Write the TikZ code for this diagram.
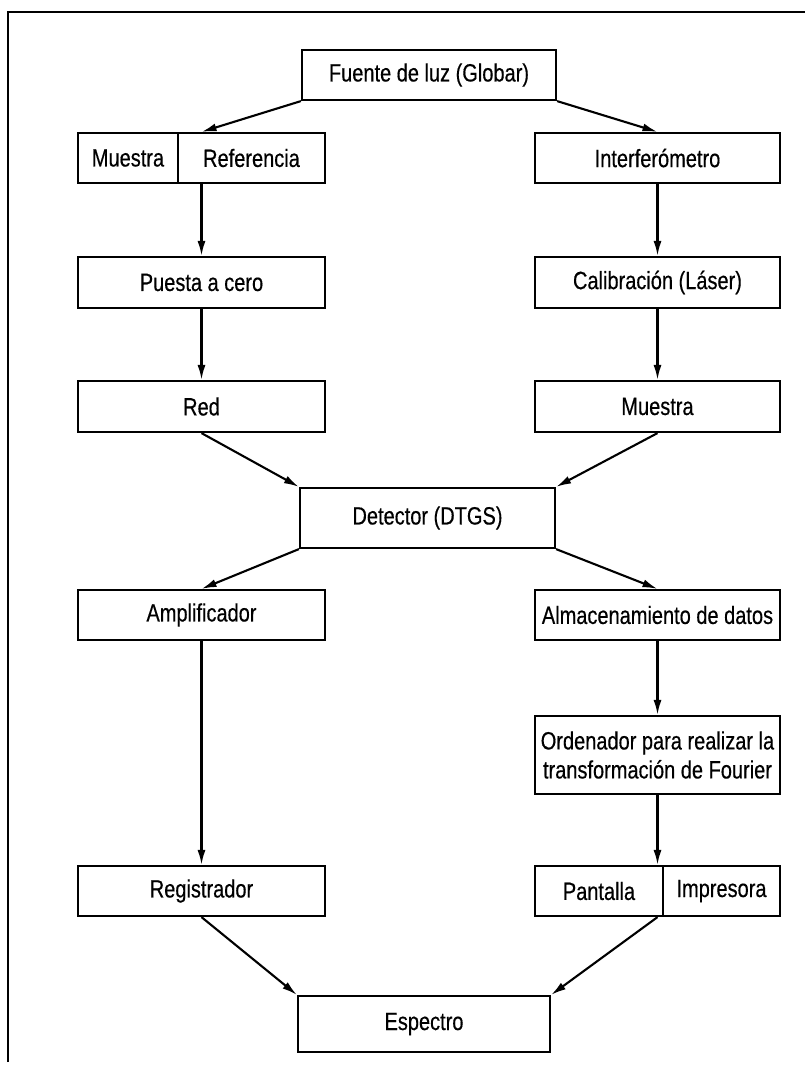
\documentclass[tikz,border=0pt]{standalone}
\usepackage{fontspec}
\setmainfont{Liberation Sans}[FakeStretch=0.8,FakeBold=0.4]
\usetikzlibrary{arrows.meta,calc}
\begin{document}
\begin{tikzpicture}[x=1pt,y=-1pt,
  box/.style={draw, line width=2.2pt, inner sep=0pt, font=\fontsize{25}{29}\selectfont, align=center},
  arr/.style={line width=2.1pt, -{Latex[length=15pt,width=8pt]}}]
\useasboundingbox (0,0) rectangle (805,1070);
\draw[line width=2pt] (8,1062) -- (8,12) -- (805,12);
\node[box, minimum width=254pt, minimum height=50pt] (fuente) at (429,75) {Fuente de luz (Globar)};
\node[box, minimum width=100pt, minimum height=50pt] (muestra) at (128,158) {Muestra};
\node[box, minimum width=147pt, minimum height=50pt] (referencia) at (251.5,158) {Referencia};
\node[box, minimum width=245pt, minimum height=50pt] (interf) at (657.5,158) {Interferómetro};
\node[box, minimum width=247pt, minimum height=51pt] (puesta) at (201.5,282.5) {Puesta a cero};
\node[box, minimum width=245pt, minimum height=51pt] (calib) at (657.5,282.5) {Calibración (Láser)};
\node[box, minimum width=247pt, minimum height=51pt] (red) at (201.5,406.5) {Red};
\node[box, minimum width=245pt, minimum height=51pt] (muestrab) at (657.5,406.5) {Muestra};
\node[box, minimum width=255pt, minimum height=60pt] (detector) at (427.5,518) {Detector (DTGS)};
\node[box, minimum width=247pt, minimum height=50pt] (amplif) at (201.5,615) {Amplificador};
\node[box, minimum width=245pt, minimum height=50pt] (almacen) at (657.5,615) {Almacenamiento de datos};
\node[box, minimum width=245pt, minimum height=78pt] (ordenador) at (657.5,755) {Ordenador para realizar la\\transformación de Fourier};
\node[box, minimum width=247pt, minimum height=50pt] (registrador) at (201.5,891) {Registrador};
\node[box, minimum width=128pt, minimum height=50pt] (pantalla) at (599,891) {Pantalla};
\node[box, minimum width=117pt, minimum height=50pt] (impresora) at (721.5,891) {Impresora};
\node[box, minimum width=252pt, minimum height=56pt] (espectro) at (424,1024) {Espectro};
\draw[arr] (fuente.south west) -- (referencia.north -| puesta.north);
\draw[arr] (fuente.south east) -- (interf.north);
\draw[arr] (puesta.north |- referencia.south) -- (puesta.north);
\draw[arr] (interf.south) -- (calib.north);
\draw[arr] (puesta.south) -- (red.north);
\draw[arr] (calib.south) -- (muestrab.north);
\draw[arr] (red.south) -- (detector.north west);
\draw[arr] (muestrab.south) -- (detector.north east);
\draw[arr] (detector.south west) -- (amplif.north);
\draw[arr] (detector.south east) -- (almacen.north);
\draw[arr] (amplif.south) -- (registrador.north);
\draw[arr] (almacen.south) -- (ordenador.north);
\draw[arr] (ordenador.south) -- (ordenador.south |- pantalla.north);
\draw[arr] (registrador.south) -- (espectro.north west);
\draw[arr] (ordenador.south |- pantalla.south) -- (espectro.north east);
\end{tikzpicture}
\end{document}
